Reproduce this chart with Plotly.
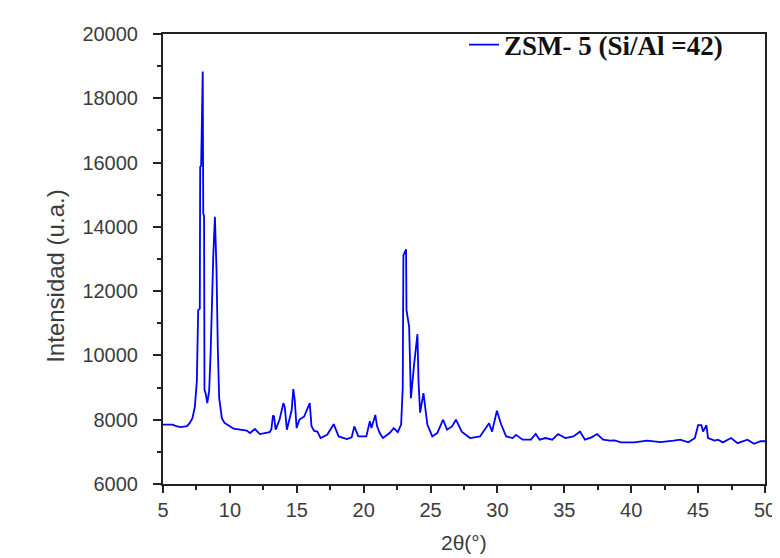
import plotly.graph_objects as go

two_theta = [5.0, 5.7, 6.0, 6.3, 6.8, 7.0, 7.2, 7.38, 7.53, 7.63, 7.75, 7.78, 7.85, 7.97, 8.01, 8.07,
             8.1, 8.2, 8.31, 8.45, 8.56, 8.71, 8.76, 8.88, 9.0, 9.1, 9.2, 9.4, 9.6, 9.79,
             10.28, 11.26, 11.5, 11.87, 12.24, 12.97, 13.1, 13.22, 13.3, 13.42, 13.71, 14.0, 14.1,
             14.26, 14.45, 14.62, 14.74, 14.85, 14.99, 15.19, 15.55, 15.7, 15.97, 16.1, 16.3, 16.54,
             16.78, 17.27, 17.76, 18.13, 18.75, 19.1, 19.3, 19.6, 20.2, 20.46, 20.58, 20.87, 21.0,
             21.2, 21.44, 21.94, 22.25, 22.55, 22.8, 22.92, 22.97, 23.17, 23.2, 23.4, 23.53, 23.78,
             24.02, 24.1, 24.22, 24.47, 24.57, 24.76, 25.13, 25.5, 25.94, 26.23, 26.6, 26.9, 27.33,
             27.95, 28.7, 29.05, 29.37, 29.6, 29.96, 30.28, 30.65, 31.14, 31.39, 31.88, 32.5, 32.86,
             33.15, 33.6, 34.1, 34.53, 35.07, 35.68, 36.17, 36.54, 37.03, 37.45, 37.9, 38.4, 38.75,
             39.24, 40.22, 41.2, 42.19, 43.17, 43.66, 44.27, 44.76, 45.0, 45.25, 45.37, 45.62, 45.74,
             46.24, 46.48, 46.85, 47.46, 47.95, 48.69, 49.18, 49.67, 50.0]
intensity = [7850, 7850, 7800, 7770, 7800, 7900, 8050, 8400, 9200, 11410, 11450, 15870, 15900, 18830, 14400, 14350,
             8930, 8800, 8515, 8900, 10070, 12600, 13120, 14310, 12650, 10170, 8670, 8050, 7900, 7850,
             7720, 7660, 7585, 7710, 7555, 7615, 7700, 8130, 8100, 7690, 8000, 8515, 8400,
             7690, 8050, 8300, 8950, 8600, 7740, 8000, 8100, 8250, 8515, 7800, 7650, 7630,
             7430, 7530, 7860, 7480, 7400, 7450, 7790, 7480, 7480, 7950, 7740, 8150, 7800,
             7585, 7430, 7585, 7740, 7615, 7850, 8980, 13120, 13300, 11410, 10890, 8670, 9760,
             10660, 9190, 8220, 8830, 8515, 7850, 7480, 7585, 8000, 7690, 7790, 8000, 7630,
             7430, 7480, 7690, 7890, 7630, 8280, 7850, 7480, 7430, 7530, 7380, 7380, 7555,
             7380, 7430, 7380, 7555, 7430, 7480, 7630, 7380, 7450, 7555, 7380, 7350, 7360,
             7295, 7295, 7350, 7300, 7350, 7380, 7295, 7430, 7830, 7830, 7630, 7830, 7430,
             7350, 7380, 7295, 7430, 7270, 7380, 7250, 7330, 7330]

series_name = "ZSM- 5 (Si/Al =42)"
x_title = "2θ(°)"
y_title = "Intensidad (u.a.)"
x_ticks = [5, 10, 15, 20, 25, 30, 35, 40, 45, 50]
y_ticks = [6000, 8000, 10000, 12000, 14000, 16000, 18000, 20000]
y_tick_labels = ["6000", "8000", "10000", "12000", "14000", "16000", "18000", "20000"]

fig = go.Figure()
fig.add_trace(go.Scatter(x=two_theta, y=intensity, mode="lines", name="<b>" + series_name + "</b>",
                         line=dict(color="#0000FF", width=1.8)))

tickfont = dict(family="Liberation Sans, Arial", size=20, color="#3c3c3c")
fig.update_layout(
    width=780, height=558,
    margin=dict(l=155, r=14, t=25, b=82),
    plot_bgcolor="white", paper_bgcolor="white",
    showlegend=True,
    legend=dict(x=0.5, y=1.03, xanchor="left", yanchor="top", bgcolor="rgba(0,0,0,0)",
                font=dict(family="Liberation Serif, Times New Roman", size=27, color="#111111")),
    xaxis=dict(range=[5, 50], tickvals=x_ticks, ticks="outside", ticklen=7, tickwidth=2,
               tickcolor="#222", showline=True, linewidth=2, linecolor="#222", mirror=True,
               showgrid=False, zeroline=False, tickfont=tickfont, ticklabelstandoff=0,
               minor=dict(ticks="outside", dtick=2.5, ticklen=4, tickwidth=2, tickcolor="#222")),
    yaxis=dict(range=[6000, 20000], tickvals=y_ticks, ticktext=y_tick_labels, ticks="outside",
               ticklen=8, tickwidth=2, ticklabelstandoff=11,
               tickcolor="#222", showline=True, linewidth=2, linecolor="#222", mirror=True,
               showgrid=False, zeroline=False, tickfont=tickfont,
               minor=dict(ticks="outside", dtick=1000, ticklen=4, tickwidth=2, tickcolor="#222")),
)
pw, ph = 780 - 155 - 14, 558 - 25 - 82
fig.add_annotation(text=x_title, x=(460 - 155) / pw, y=(476 - 548) / ph, xref="paper", yref="paper",
                   showarrow=False, font=dict(family="Liberation Sans, Arial", size=21, color="#3c3c3c"))
fig.add_annotation(text=y_title, x=(30 - 155) / pw, y=(476 - 268) / ph, xref="paper", yref="paper",
                   showarrow=False, textangle=-90,
                   font=dict(family="Liberation Sans, Arial", size=24, color="#3c3c3c"))

fig.write_html("out.html")
